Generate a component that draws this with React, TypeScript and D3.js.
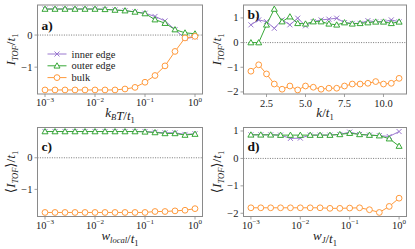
import React from "react";
import * as d3 from "d3";

// ---------- data ----------
const logX = [0.001, 0.001585, 0.002512, 0.003981, 0.00631, 0.01, 0.01585, 0.02512, 0.03981, 0.0631, 0.1, 0.1585, 0.2512, 0.3981, 0.631, 1.0];
const kX = [1.5, 2, 2.5, 3, 3.5, 4, 4.5, 5, 5.5, 6, 6.5, 7, 7.5, 8, 8.5, 9, 9.5, 10, 10.5, 11];

const aInner = [0.81, 0.81, 0.81, 0.81, 0.81, 0.81, 0.8, 0.78, 0.76, 0.72, 0.68, 0.58, 0.44, 0.17, -0.11, -0.06];
const aOuter = [0.81, 0.81, 0.81, 0.81, 0.81, 0.81, 0.8, 0.78, 0.76, 0.72, 0.67, 0.48, 0.37, 0.17, 0.07, 0.04];
const aBulk = [-1.71, -1.71, -1.71, -1.71, -1.71, -1.71, -1.71, -1.71, -1.68, -1.63, -1.47, -1.26, -0.96, -0.51, -0.09, -0.04];

const bInner = [0.72, 0.92, 0.85, 0.58, 0.92, 0.72, 0.99, 0.68, 0.85, 0.92, 0.95, 0.99, 0.81, 0.78, 0.78, 0.89, 0.84, 0.84, 0.92, 0.84];
const bOuter = [0.0, 0.0, 0.72, 1.36, 0.85, 1.05, 0.78, 0.76, 0.85, 0.85, 0.76, 0.72, 0.81, 0.76, 0.78, 0.81, 0.84, 0.84, 0.78, 0.84];
const bBulk = [-1.16, -0.9, -1.27, -1.68, -1.89, -1.76, -1.92, -1.76, -1.81, -1.89, -1.85, -1.85, -1.76, -1.68, -1.68, -1.65, -1.58, -1.68, -1.65, -1.45];

const cInner = [0.83, 0.83, 0.83, 0.83, 0.83, 0.83, 0.83, 0.83, 0.83, 0.83, 0.83, 0.81, 0.79, 0.79, 0.74, 0.76];
const cOuter = [0.83, 0.83, 0.83, 0.83, 0.83, 0.83, 0.83, 0.83, 0.83, 0.83, 0.82, 0.8, 0.77, 0.77, 0.72, 0.75];
const cBulk = [-1.73, -1.73, -1.73, -1.73, -1.73, -1.73, -1.73, -1.73, -1.73, -1.73, -1.73, -1.7, -1.7, -1.68, -1.66, -1.61];

const dInner = [0.86, 0.86, 0.86, 0.85, 0.73, 0.74, 0.85, 0.85, 0.85, 0.875, 0.96, 0.875, 0.85, 0.83, 0.8, 0.98];
const dOuter = [0.86, 0.86, 0.86, 0.85, 0.85, 0.85, 0.85, 0.85, 0.85, 0.875, 0.92, 0.875, 0.85, 0.83, 0.72, 0.45];
const dBulk = [-1.8, -1.8, -1.8, -1.8, -1.8, -1.8, -1.8, -1.8, -1.82, -1.82, -1.81, -1.8, -1.87, -1.97, -1.75, -1.45];

const seriesNames = ["inner edge", "outer edge", "bulk"];
const logTickExps = ["−3", "−2", "−1", "0"];
const logTickVals = [0.001, 0.01, 0.1, 1];
const kTickVals = [2.5, 5.0, 7.5, 10.0];

// ---------- style ----------
const C_IN = "#9a78cf";
const C_OUT = "#38a838";
const C_BULK = "#ff9a3c";
const FRAME = "#8a8a8a";
const FONT = "'Liberation Serif', 'DejaVu Serif', serif";

type PanelProps = {
  x0: number; x1: number; y0: number; y1: number;
  xs: number[]; inner: number[]; outer: number[]; bulk: number[];
  log: boolean; label: string; labelY: number;
  yTicks: number[]; xlabel: React.ReactNode; ylabel: React.ReactNode;
  xlabOff: number;
  legend?: boolean;
};

function Marker({ kind, x, y, color }: { kind: number; x: number; y: number; color: string }) {
  if (kind === 0) {
    const s = 2.5;
    return (
      <g stroke={color} strokeWidth={1}>
        <line x1={x - s} y1={y - s} x2={x + s} y2={y + s} />
        <line x1={x - s} y1={y + s} x2={x + s} y2={y - s} />
      </g>
    );
  }
  if (kind === 1) {
    const s = 3;
    return (
      <path d={`M${x},${y - s} L${x + s},${y + s * 0.75} L${x - s},${y + s * 0.75} Z`} fill="white" stroke={color} strokeWidth={1} />
    );
  }
  return <circle cx={x} cy={y} r={2.9} fill="white" stroke={color} strokeWidth={1} />;
}

function Panel(p: PanelProps) {
  const ext = d3.extent([...p.inner, ...p.outer, ...p.bulk, 0]) as [number, number];
  const yr = ext[1] - ext[0];
  const y = d3.scaleLinear().domain([ext[0] - 0.05 * yr, ext[1] + 0.05 * yr]).range([p.y1, p.y0]);
  let x: any;
  if (p.log) {
    const lx = d3.extent(p.xs.map((v) => Math.log10(v))) as [number, number];
    const m = 0.05 * (lx[1] - lx[0]);
    x = d3.scaleLog().domain([Math.pow(10, lx[0] - m), Math.pow(10, lx[1] + m)]).range([p.x0, p.x1]);
  } else {
    const e = d3.extent(p.xs) as [number, number];
    const m = 0.05 * (e[1] - e[0]);
    x = d3.scaleLinear().domain([e[0] - m, e[1] + m]).range([p.x0, p.x1]);
  }
  const line = d3.line<[number, number]>().x((d) => x(d[0])).y((d) => y(d[1]));
  const sets = [
    { vals: p.inner, color: C_IN, kind: 0 },
    { vals: p.outer, color: C_OUT, kind: 1 },
    { vals: p.bulk, color: C_BULK, kind: 2 },
  ];
  const xTicks = p.log ? logTickVals : kTickVals;
  return (
    <g fontFamily={FONT}>
      <line x1={p.x0} x2={p.x1} y1={y(0)} y2={y(0)} stroke="#555" strokeWidth={0.8} strokeDasharray="1,1.4" />
      {sets.map((s, si) => (
        <g key={si}>
          <path d={line(p.xs.map((v, i) => [v, s.vals[i]]) as [number, number][]) || ""} fill="none" stroke={s.color} strokeWidth={1} />
          {p.xs.map((v, i) => (
            <Marker key={i} kind={s.kind} x={x(v)} y={y(s.vals[i])} color={s.color} />
          ))}
        </g>
      ))}
      <rect x={p.x0} y={p.y0} width={p.x1 - p.x0} height={p.y1 - p.y0} fill="none" stroke={FRAME} strokeWidth={1} />
      {p.yTicks.map((t) => (
        <g key={t}>
          <line x1={p.x0 - 3} x2={p.x0} y1={y(t)} y2={y(t)} stroke={FRAME} strokeWidth={0.8} />
          <text x={p.x0 - 5} y={y(t) + 3.5} textAnchor="end" fontSize={10.5} fill="#222">
            {t < 0 ? "−" + Math.abs(t) : String(t)}
          </text>
        </g>
      ))}
      {xTicks.map((t, i) => (
        <g key={t}>
          <line x1={x(t)} x2={x(t)} y1={p.y1} y2={p.y1 + 3} stroke={FRAME} strokeWidth={0.8} />
          {p.log ? (
            <text x={x(t)} y={p.y1 + 12} textAnchor="middle" fontSize={10.5} fill="#222">
              <tspan>10</tspan>
              <tspan fontSize={7} dy={-4.5}>{logTickExps[i]}</tspan>
            </text>
          ) : (
            <text x={x(t)} y={p.y1 + 13} textAnchor="middle" fontSize={10.5} fill="#222">
              {t.toFixed(1)}
            </text>
          )}
        </g>
      ))}
      <text x={(p.x0 + p.x1) / 2} y={p.y1 + p.xlabOff} textAnchor="middle" fontSize={13} fill="#222">
        {p.xlabel}
      </text>
      <text transform={`translate(${p.x0 - 23},${(p.y0 + p.y1) / 2}) rotate(-90)`} textAnchor="middle" fontSize={13.5} fill="#222">
        {p.ylabel}
      </text>
      <text x={p.x0 + 4} y={p.labelY} fontSize={13.5} fontWeight="bold" fill="#111">{p.label}</text>
      {p.legend && (
        <g>
          {sets.map((s, i) => {
            const ly = p.y0 + 49 + i * 11.8;
            return (
              <g key={i}>
                <line x1={p.x0 + 10} x2={p.x0 + 29} y1={ly} y2={ly} stroke={s.color} strokeWidth={1} />
                <Marker kind={s.kind} x={p.x0 + 19.5} y={ly} color={s.color} />
                <text x={p.x0 + 34} y={ly + 3.5} fontSize={10.5} fill="#222">{seriesNames[i]}</text>
              </g>
            );
          })}
        </g>
      )}
    </g>
  );
}

const IT = ({ children }: { children: React.ReactNode }) => <tspan fontStyle="italic">{children}</tspan>;

function yLab(avg: boolean) {
  return (
    <>
      {avg && <tspan>⟨</tspan>}
      <tspan fontStyle="italic">I</tspan>
      <tspan fontStyle="italic" fontSize={8.5} dy={3}>TOF</tspan>
      <tspan dy={-3}>{avg ? "⟩/" : "/"}</tspan>
      <tspan fontStyle="italic">t</tspan>
      <tspan fontSize={8.5} dy={3}>1</tspan>
    </>
  );
}

function xLab(main: string, sub: string, extra?: string) {
  return (
    <>
      <IT>{main}</IT>
      <tspan fontStyle="italic" fontSize={8.5} dy={3}>{sub}</tspan>
      <tspan dy={-3}>{""}</tspan>
      {extra && <IT>{extra}</IT>}
      <tspan>/</tspan>
      <IT>t</IT>
      <tspan fontSize={8.5} dy={3}>1</tspan>
    </>
  );
}

export default function App() {
  const L0 = 37.5, L1 = 202.5, R0 = 243.5, R1 = 406.5;
  const T0 = 5, T1 = 94, B0 = 127.5, B1 = 216.5;
  return (
    <svg width={415} height={249} style={{ position: "absolute", left: 0, top: 0, background: "white" }}>
      <Panel x0={L0} x1={L1} y0={T0} y1={T1} xs={logX} inner={aInner} outer={aOuter} bulk={aBulk} log xlabOff={23}
        label="a)" labelY={T0 + 25} yTicks={[0, -1]} xlabel={xLab("k", "B", "T")} ylabel={yLab(false)} legend />
      <Panel x0={R0} x1={R1} y0={T0} y1={T1} xs={kX} inner={bInner} outer={bOuter} bulk={bBulk} log={false} xlabOff={23}
        label="b)" labelY={T0 + 14} yTicks={[1, 0, -1, -2]}
        xlabel={<><IT>k</IT><tspan>/</tspan><IT>t</IT><tspan fontSize={8.5} dy={3}>1</tspan></>} ylabel={yLab(false)} />
      <Panel x0={L0} x1={L1} y0={B0} y1={B1} xs={logX} inner={cInner} outer={cOuter} bulk={cBulk} log xlabOff={23}
        label="c)" labelY={B0 + 23} yTicks={[0, -1]} xlabel={xLab("w", "local")} ylabel={yLab(true)} />
      <Panel x0={R0} x1={R1} y0={B0} y1={B1} xs={logX} inner={dInner} outer={dOuter} bulk={dBulk} log xlabOff={23}
        label="d)" labelY={B0 + 23} yTicks={[1, 0, -1, -2]} xlabel={xLab("w", "J")} ylabel={yLab(true)} />
    </svg>
  );
}
